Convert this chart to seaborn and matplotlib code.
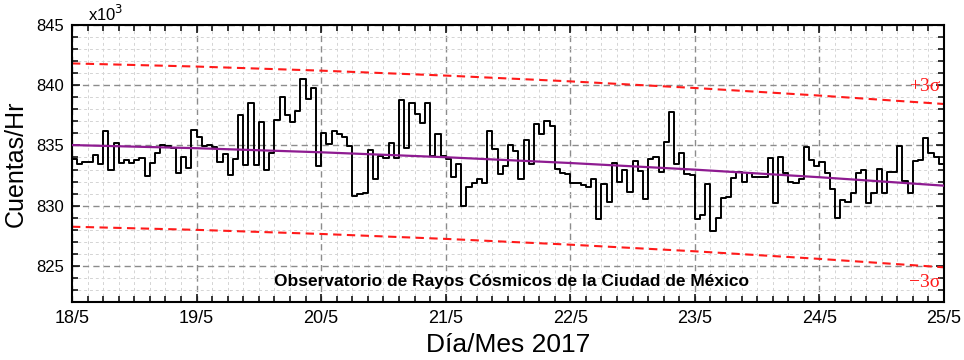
import numpy as np
import pandas as pd
import seaborn as sns
import matplotlib.pyplot as plt
from matplotlib.ticker import MultipleLocator

sns.set_theme(style="ticks")
plt.rcParams['font.family'] = ['Liberation Sans', 'DejaVu Sans']
plt.rcParams['text.color'] = 'black'
plt.rcParams['axes.labelcolor'] = 'black'
plt.rcParams['xtick.color'] = 'black'
plt.rcParams['ytick.color'] = 'black'

# Cuentas por hora (x10^3), 18/5 00h -> 24/5 23h
dia_18 = [833.87, 833.46, 833.60, 833.60, 834.23, 833.46, 836.21, 832.97,
          835.22, 833.52, 833.79, 833.52, 833.79, 833.93, 832.50, 833.52,
          834.37, 835.05, 834.95, 834.78, 832.75, 834.07, 833.10, 836.26]
dia_19 = [835.66, 834.95, 835.05, 834.86, 833.65, 834.29, 832.55, 833.85,
          837.55, 833.41, 838.54, 833.41, 836.92, 832.99, 834.34, 837.09,
          839.01, 837.53, 836.95, 837.83, 840.52, 838.82, 839.73, 833.30]
dia_20 = [836.02, 835.08, 836.24, 835.93, 835.71, 834.95, 830.82, 830.93,
          831.04, 834.64, 832.20, 834.09, 833.96, 835.22, 833.96, 838.74,
          834.75, 838.49, 837.64, 836.90, 838.52, 834.15, 835.93, 834.12]
dia_21 = [833.84, 832.41, 833.43, 829.98, 831.56, 831.86, 832.25, 831.90,
          836.24, 834.67, 832.60, 833.29, 835.00, 834.53, 832.25, 835.41,
          833.43, 836.74, 835.96, 837.01, 836.60, 833.07, 832.69, 832.60]
dia_22 = [831.91, 831.91, 831.72, 831.58, 832.25, 828.88, 831.78, 830.34,
          833.51, 831.97, 832.93, 831.17, 833.71, 832.88, 830.54, 833.90,
          834.06, 832.80, 835.28, 837.75, 833.43, 834.39, 832.66, 832.55]
dia_23 = [828.88, 829.24, 831.78, 827.92, 828.94, 830.67, 830.73, 832.33,
          832.82, 831.97, 832.74, 832.38, 832.38, 832.38, 833.98, 830.18,
          834.04, 832.74, 831.97, 831.86, 832.19, 834.86, 833.79, 833.29]
dia_24 = [833.62, 832.69, 831.42, 828.94, 830.45, 830.32, 831.09, 832.69,
          832.93, 830.26, 831.01, 833.07, 831.01, 832.80, 832.80, 834.94,
          832.05, 831.01, 833.71, 833.82, 835.63, 834.34, 834.04, 833.49]

# tendencia leida al inicio de cada dia y ancho de banda 3 sigma
dias_tendencia = [0, 1, 2, 3, 4, 5, 6, 7]
tendencia = [835.03, 834.77, 834.43, 834.02, 833.54, 832.99, 832.36, 831.66]
tres_sigma = 6.78

etiquetas_x = ["18/5", "19/5", "20/5", "21/5", "22/5", "23/5", "24/5", "25/5"]

cuentas = dia_18 + dia_19 + dia_20 + dia_21 + dia_22 + dia_23 + dia_24
serie = pd.DataFrame({
    "dia": np.arange(len(cuentas) + 1) / 24,
    "cuentas": cuentas + [cuentas[-1]],
})
banda = pd.DataFrame({"dia": dias_tendencia, "tendencia": tendencia})
banda["sup"] = banda["tendencia"] + tres_sigma
banda["inf"] = banda["tendencia"] - tres_sigma

fig = plt.figure(figsize=(9.64, 3.6), dpi=100)
ax = fig.add_axes([72 / 964, 1 - 302 / 360, 872 / 964, 277 / 360])

rojo = "#ff1a1a"
sns.lineplot(data=banda, x="dia", y="sup", color=rojo, lw=1.5,
             dashes=False, ax=ax, linestyle=(0, (4, 2.6)))
sns.lineplot(data=banda, x="dia", y="inf", color=rojo, lw=1.5,
             dashes=False, ax=ax, linestyle=(0, (4, 2.6)))
sns.lineplot(data=serie, x="dia", y="cuentas", color="black", lw=1.4,
             drawstyle="steps-post", ax=ax, zorder=3)
sns.lineplot(data=banda, x="dia", y="tendencia", color="#8e1b91", lw=1.6,
             ax=ax, zorder=4)

ax.set_xlim(0, 7)
ax.set_ylim(822, 845)
ax.set_xticks(range(8))
ax.set_xticklabels(etiquetas_x)
ax.set_yticks([825, 830, 835, 840, 845])
ax.xaxis.set_minor_locator(MultipleLocator(1 / 8))
ax.yaxis.set_minor_locator(MultipleLocator(1))

ax.grid(which="major", color="#8c8c8c", lw=1.0, linestyle=(0, (4.5, 3)))
ax.grid(which="minor", color="#d4d4d4", lw=0.7, linestyle=(0, (3, 3)))
ax.set_axisbelow(True)

ax.tick_params(which="both", direction="in", top=True, right=True,
               color="black", width=1.1)
ax.tick_params(which="major", length=6)
ax.tick_params(which="minor", length=4)
ax.tick_params(axis="x", labelsize=13, pad=6)
ax.tick_params(axis="y", labelsize=12, pad=6)
for s in ax.spines.values():
    s.set_linewidth(1.5)
    s.set_color("black")

ax.set_xlabel("Día/Mes 2017", fontsize=19, labelpad=4)
ax.set_ylabel("Cuentas/Hr", fontsize=18, labelpad=6)

fig.text(88 / 964, 1 - 14 / 360, r"x10$^{3}$", fontsize=12, va="center")

ax.text(6.97, 839.9, "+3σ", color=rojo, fontsize=14, ha="right",
        va="center", family=["Liberation Serif", "DejaVu Serif"])
ax.text(6.97, 823.6, "−3σ", color=rojo, fontsize=14, ha="right",
        va="center", family=["Liberation Serif", "DejaVu Serif"])
ax.text(3.53, 823.7, "Observatorio de Rayos Cósmicos de la Ciudad de México",
        fontsize=12.5, fontweight="bold", ha="center", va="center")

fig.savefig("out.png", dpi=100)
